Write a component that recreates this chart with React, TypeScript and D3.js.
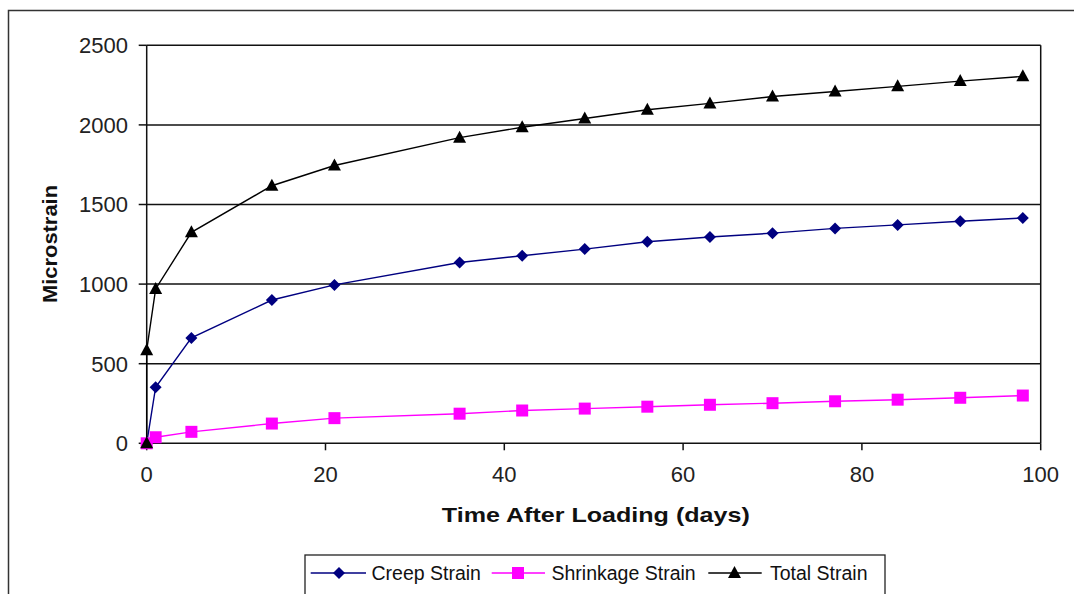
import React from "react";
import * as d3 from "d3";

const days = [0, 1, 5, 14, 21, 35, 42, 49, 56, 63, 70, 77, 84, 91, 98];
const creepStrain = [0, 352, 662, 900, 995, 1136, 1178, 1220, 1266, 1296, 1320, 1350, 1372, 1395, 1415];
const shrinkageStrain = [0, 38, 72, 124, 158, 186, 206, 218, 230, 242, 252, 264, 274, 286, 300];
const totalDays = [0, 0, 1, 5, 14, 21, 35, 42, 49, 56, 63, 70, 77, 84, 91, 98];
const totalStrain = [0, 585, 970, 1325, 1618, 1745, 1920, 1985, 2040, 2095, 2135, 2178, 2210, 2242, 2275, 2305];
const xTicks = [0, 20, 40, 60, 80, 100];
const yTicks = [0, 500, 1000, 1500, 2000, 2500];
const legendLabels = ["Creep Strain", "Shrinkage Strain", "Total Strain"];

const FONT = "'Liberation Sans', Arial, Helvetica, sans-serif";

type Marker = "diamond" | "square" | "triangle";

function markerPath(kind: Marker, cx: number, cy: number): string {
  if (kind === "diamond") {
    const r = 6;
    return `M${cx},${cy - r}L${cx + r},${cy}L${cx},${cy + r}L${cx - r},${cy}Z`;
  }
  if (kind === "square") {
    const h = 6;
    return `M${cx - h},${cy - h}H${cx + h}V${cy + h}H${cx - h}Z`;
  }
  const w = 6.5, up = 7, dn = 5;
  return `M${cx},${cy - up}L${cx + w},${cy + dn}L${cx - w},${cy + dn}Z`;
}

export default function App() {
  const W = 1074, H = 594;
  const x = d3.scaleLinear().domain([0, 100]).range([146.7, 1040.7]);
  const y = d3.scaleLinear().domain([0, 2500]).range([443.3, 45.3]);

  const series = [
    { name: legendLabels[0], xs: days, ys: creepStrain, color: "#000080", marker: "diamond" as Marker },
    { name: legendLabels[1], xs: days, ys: shrinkageStrain, color: "#FF00FF", marker: "square" as Marker },
    { name: legendLabels[2], xs: totalDays, ys: totalStrain, color: "#000000", marker: "triangle" as Marker },
  ];

  const line = d3
    .line<[number, number]>()
    .x((d) => x(d[0]))
    .y((d) => y(d[1]));

  const legendItems = [
    { lineX0: 310.7, lineX1: 366, mx: 339, tx: 371.5 },
    { lineX0: 491.7, lineX1: 545, mx: 518, tx: 551.5 },
    { lineX0: 708.3, lineX1: 761.7, mx: 734.5, tx: 770 },
  ];
  const legendY = 573;

  return (
    <svg
      width={W}
      height={H}
      style={{ position: "absolute", left: 0, top: 0, background: "#fff" }}
      fontFamily={FONT}
    >
      <rect x={0} y={0} width={W} height={H} fill="#fff" />
      {/* outer frame */}
      <rect x={8.5} y={10.5} width={1100} height={620} fill="none" stroke="#333" strokeWidth={1.5} />

      {/* gridlines */}
      {yTicks.map((t) => (
        <line key={"g" + t} x1={x(0)} x2={x(100)} y1={y(t)} y2={y(t)} stroke="#111" strokeWidth={1.5} />
      ))}
      {/* plot borders */}
      <line x1={x(0)} x2={x(0)} y1={y(2500)} y2={y(0)} stroke="#111" strokeWidth={1.5} />
      <line x1={x(100)} x2={x(100)} y1={y(2500)} y2={y(0)} stroke="#111" strokeWidth={1.5} />

      {/* y ticks */}
      {yTicks.map((t) => (
        <g key={"yt" + t}>
          <line x1={x(0) - 8} x2={x(0)} y1={y(t)} y2={y(t)} stroke="#111" strokeWidth={1.5} />
          <text x={128} y={y(t)} dy="0.36em" textAnchor="end" fontSize={22} fill="#222">
            {t}
          </text>
        </g>
      ))}
      {/* x ticks */}
      {xTicks.map((t) => (
        <g key={"xt" + t}>
          <line x1={x(t)} x2={x(t)} y1={y(0)} y2={y(0) + 7} stroke="#111" strokeWidth={1.5} />
          <text x={x(t)} y={482} textAnchor="middle" fontSize={22} fill="#222">
            {t}
          </text>
        </g>
      ))}

      {/* axis titles */}
      <text
        x={595.8}
        y={522}
        textAnchor="middle"
        fontSize={21}
        fontWeight="bold"
        fill="#111"
        textLength={308}
        lengthAdjust="spacingAndGlyphs"
      >
        Time After Loading (days)
      </text>
      <text
        transform={`translate(57,244) rotate(-90)`}
        textAnchor="middle"
        fontSize={21}
        fontWeight="bold"
        fill="#111"
        textLength={118}
        lengthAdjust="spacingAndGlyphs"
      >
        Microstrain
      </text>

      {/* series lines */}
      {series.map((s) => (
        <path
          key={"l" + s.name}
          d={line(s.xs.map((d, i) => [d, s.ys[i]] as [number, number])) || ""}
          fill="none"
          stroke={s.color}
          strokeWidth={1.4}
        />
      ))}
      {/* markers */}
      {series.map((s) => (
        <g key={"m" + s.name}>
          {s.xs.map((d, i) => (
            <path key={i} d={markerPath(s.marker, x(d), y(s.ys[i]))} fill={s.color} />
          ))}
        </g>
      ))}

      {/* legend */}
      <rect x={305} y={555} width={580} height={40} fill="#fff" stroke="#222" strokeWidth={1.3} />
      {series.map((s, i) => {
        const it = legendItems[i];
        return (
          <g key={"lg" + s.name}>
            <line x1={it.lineX0} x2={it.lineX1} y1={legendY} y2={legendY} stroke={s.color} strokeWidth={1.3} />
            <path d={markerPath(s.marker, it.mx, legendY)} fill={s.color} />
            <text x={it.tx} y={legendY} dy="0.36em" fontSize={19.5} fill="#111">
              {s.name}
            </text>
          </g>
        );
      })}
    </svg>
  );
}
